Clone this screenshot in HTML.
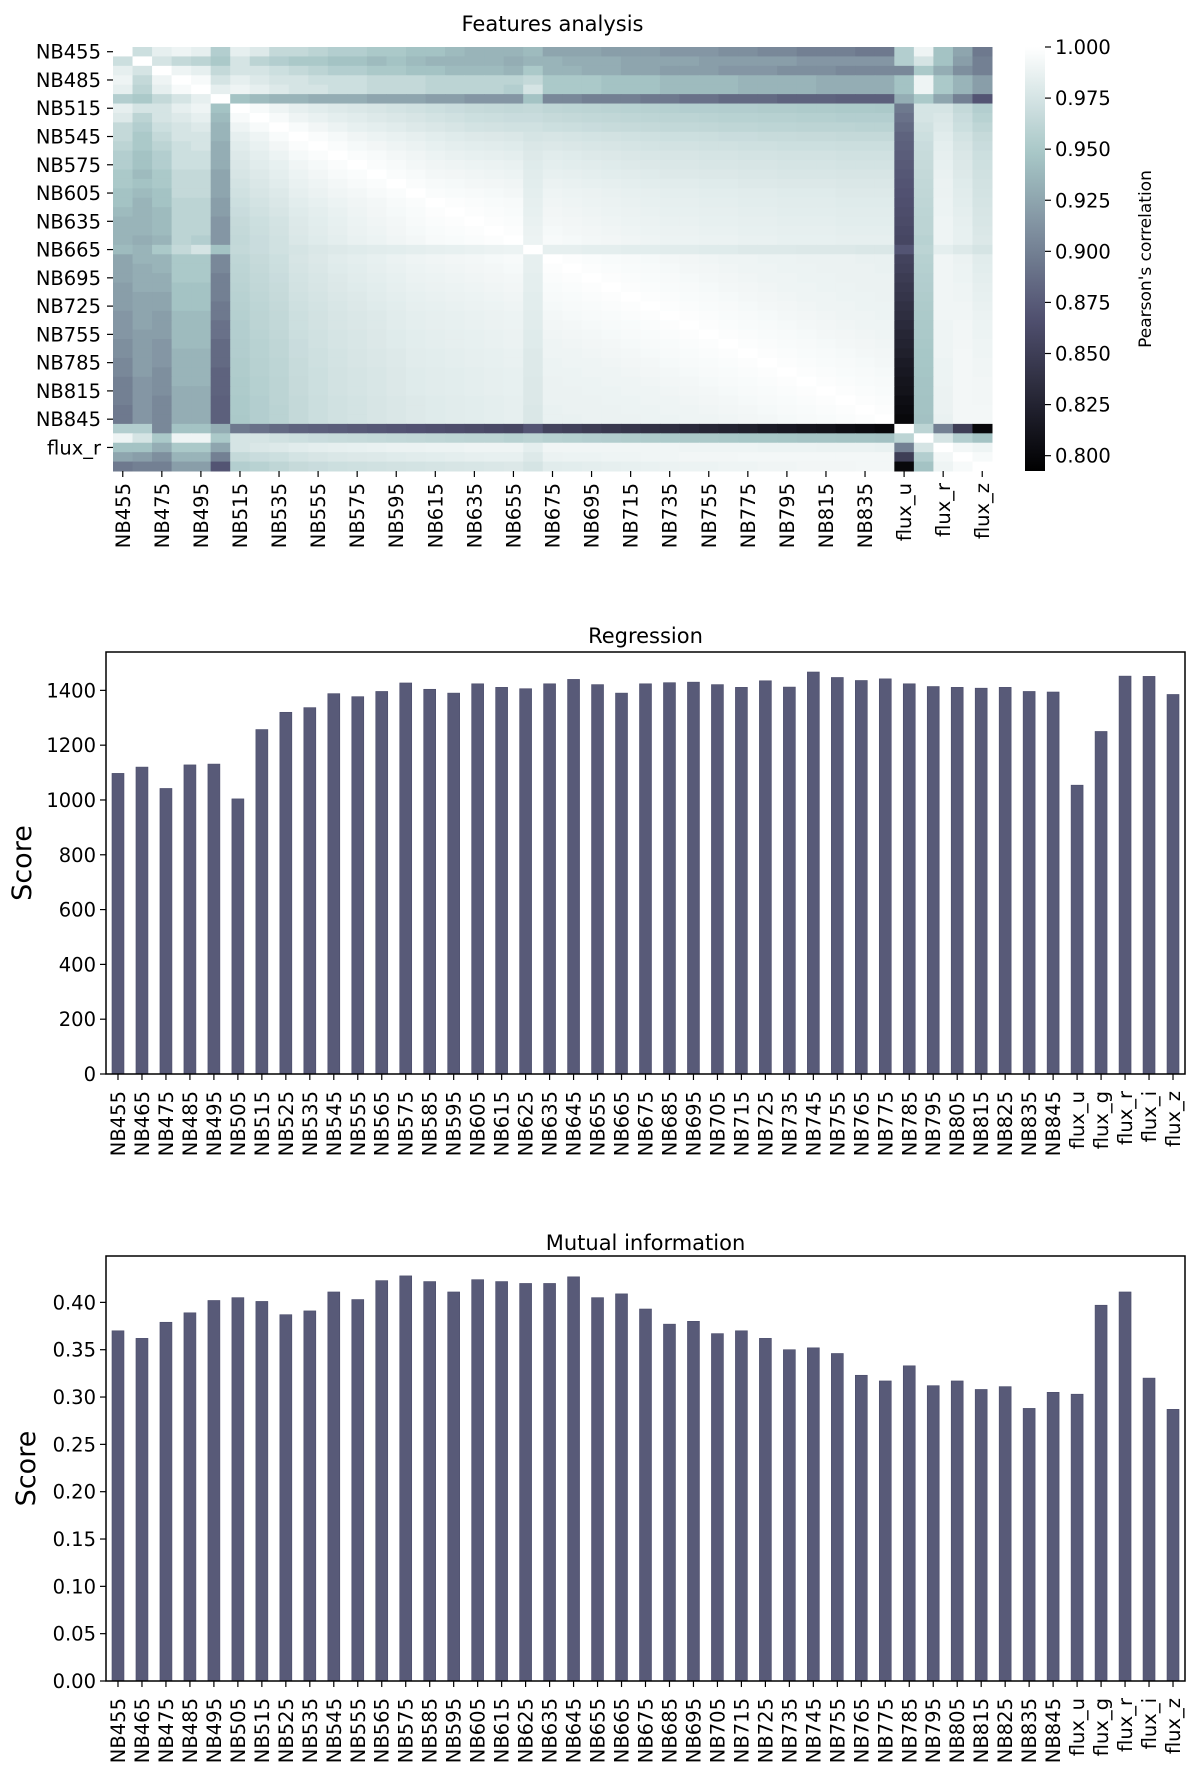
<!DOCTYPE html>
<html><head><meta charset="utf-8"><style>
html,body{margin:0;padding:0;background:#fff;}
svg{display:block;font-family:"DejaVu Sans","Liberation Sans",sans-serif;}
</style></head><body>
<svg id="fig" width="1200" height="1776" viewBox="0 0 1200 1776" xmlns="http://www.w3.org/2000/svg">
<g id="heat"></g>
<g id="reg"></g>
<g id="mi"></g>
</svg>
<script>
const features = ["NB455","NB465","NB475","NB485","NB495","NB505","NB515","NB525","NB535","NB545","NB555","NB565","NB575","NB585","NB595","NB605","NB615","NB625","NB635","NB645","NB655","NB665","NB675","NB685","NB695","NB705","NB715","NB725","NB735","NB745","NB755","NB765","NB775","NB785","NB795","NB805","NB815","NB825","NB835","NB845","flux_u","flux_g","flux_r","flux_i","flux_z"];
// upper triangle rows (row i, columns i..44), correlation x1000
const corrUpper = [
[1000,970,985,990,985,955,985,980,965,965,960,955,955,950,950,945,945,940,935,935,935,940,925,925,925,920,920,920,915,915,915,910,910,905,905,900,900,900,895,895,955,990,945,925,895],
[1000,975,965,960,950,975,960,955,950,950,945,945,940,945,940,935,935,935,935,930,935,935,930,930,930,925,925,925,925,920,920,920,920,920,915,915,915,915,915,955,975,945,920,900],
[1000,990,985,965,975,975,970,965,960,955,955,950,950,945,945,940,940,940,935,950,935,935,930,930,925,925,920,920,920,915,915,915,910,910,910,905,905,905,905,950,930,910,900],
[1000,995,975,985,980,975,975,970,970,970,965,965,965,960,960,960,960,960,965,950,950,950,945,945,945,940,940,940,940,935,935,935,935,930,930,930,930,945,990,950,935,920],
[1000,985,990,985,980,975,975,970,970,965,965,965,960,960,960,960,955,975,950,950,950,945,945,945,940,940,940,940,935,935,935,935,930,930,930,930,945,990,950,935,920],
[1000,945,940,935,935,930,930,930,925,925,925,920,920,915,915,915,945,905,905,900,900,900,895,895,890,890,885,885,885,880,880,880,878,878,878,930,950,925,900,870],
[1000,995,990,985,982,980,978,976,974,972,970,968,966,965,964,965,962,961,960,959,958,957,956,955,955,954,954,953,953,952,952,951,951,950,895,975,975,965,955],
[1000,995,990,987,984,982,980,978,976,974,972,970,969,968,968,966,965,964,963,962,961,960,960,959,958,958,957,957,956,956,955,955,955,890,975,978,968,958],
[1000,996,992,989,986,984,982,980,978,976,974,973,972,972,970,969,968,967,966,965,964,964,963,962,962,961,961,960,960,960,959,959,885,972,980,970,962],
[1000,997,994,991,989,987,985,983,981,980,979,978,975,976,975,974,973,972,971,970,970,969,968,968,967,967,966,966,965,965,965,880,970,982,974,966],
[1000,997,994,992,990,988,986,984,983,982,981,978,979,978,977,976,975,974,973,973,972,972,971,971,970,970,970,969,969,969,878,968,984,976,968],
[1000,997,995,993,991,989,987,986,985,984,980,982,981,980,979,978,977,976,976,975,975,974,974,973,973,973,972,972,972,876,967,985,978,970],
[1000,997,995,993,991,990,989,988,987,981,984,983,982,981,980,979,978,978,977,977,976,976,975,975,975,974,974,974,874,966,986,979,971],
[1000,997,995,993,992,991,990,989,982,986,985,984,983,982,981,980,980,979,979,978,978,977,977,977,976,976,976,872,965,987,980,972],
[1000,997,995,994,993,992,991,983,988,987,986,985,984,983,982,982,981,981,980,980,979,979,979,978,978,978,870,964,988,981,973],
[1000,997,996,995,994,993,984,990,989,988,987,986,985,984,984,983,983,982,982,981,981,981,980,980,980,868,963,988,982,974],
[1000,998,997,996,995,985,991,990,989,988,987,986,985,985,984,984,983,983,982,982,982,981,981,981,866,962,989,983,975],
[1000,998,997,996,986,992,991,990,989,988,987,986,986,985,985,984,984,983,983,983,982,982,982,864,961,989,984,976],
[1000,998,997,987,993,992,991,990,989,988,987,987,986,986,985,985,984,984,984,983,983,983,862,960,990,985,977],
[1000,998,988,994,993,992,991,990,989,988,988,987,987,986,986,985,985,985,984,984,984,860,960,990,986,978],
[1000,989,995,994,993,992,991,990,989,989,988,988,987,987,986,986,986,985,985,985,858,958,990,986,979],
[1000,985,985,984,984,983,983,982,982,981,981,980,980,980,979,979,979,978,978,870,960,984,980,975],
[1000,998,997,996,995,994,993,992,991,990,990,989,989,988,988,988,987,987,855,957,991,988,982],
[1000,998,997,996,995,994,993,992,991,990,990,989,989,988,988,988,987,852,956,991,989,983],
[1000,998,997,996,995,994,993,992,991,990,990,989,989,988,988,988,848,955,991,989,984],
[1000,998,997,996,995,994,993,992,991,990,990,989,989,988,988,845,954,991,990,985],
[1000,998,997,996,995,994,993,992,991,990,990,989,989,988,842,953,991,990,986],
[1000,998,997,996,995,994,993,992,991,990,990,989,989,838,952,991,991,987],
[1000,998,997,996,995,994,993,992,991,990,990,989,835,951,991,991,988],
[1000,998,997,996,995,994,993,992,991,990,990,832,950,990,992,989],
[1000,998,997,996,995,994,993,992,991,990,828,950,990,992,989],
[1000,998,997,996,995,994,993,992,991,825,949,990,992,990],
[1000,998,997,996,995,994,993,992,822,948,990,993,990],
[1000,998,997,996,995,994,993,818,948,989,993,991],
[1000,998,997,996,995,994,815,947,989,993,991],
[1000,998,997,996,995,812,946,989,993,992],
[1000,998,997,996,810,946,988,993,992],
[1000,998,997,806,945,988,993,992],
[1000,998,803,945,988,993,993],
[1000,800,944,987,993,993],
[1000,960,900,850,800],
[1000,975,955,945],
[1000,993,990],
[1000,995],
[1000]
];
const heatYTicks = ["NB455","NB485","NB515","NB545","NB575","NB605","NB635","NB665","NB695","NB725","NB755","NB785","NB815","NB845","flux_r"];
const heatXTicks = ["NB455","NB475","NB495","NB515","NB535","NB555","NB575","NB595","NB615","NB635","NB655","NB675","NB695","NB715","NB735","NB755","NB775","NB795","NB815","NB835","flux_u","flux_r","flux_z"];
const cbarTicks = [1.000,0.975,0.950,0.925,0.900,0.875,0.850,0.825,0.800];
const regScores = [1097,1120,1042,1128,1131,1004,1257,1320,1337,1388,1377,1396,1427,1404,1390,1424,1411,1406,1424,1440,1421,1390,1424,1428,1430,1421,1411,1435,1412,1467,1447,1436,1442,1424,1414,1411,1408,1411,1396,1394,1054,1250,1452,1451,1385];
const regTicks = [0,200,400,600,800,1000,1200,1400];
const miScores = [0.370,0.362,0.379,0.389,0.402,0.405,0.401,0.387,0.391,0.411,0.403,0.423,0.428,0.422,0.411,0.424,0.422,0.420,0.420,0.427,0.405,0.409,0.393,0.377,0.380,0.367,0.370,0.362,0.350,0.352,0.346,0.323,0.317,0.333,0.312,0.317,0.308,0.311,0.288,0.305,0.303,0.397,0.411,0.320,0.287];
const miTicks = [0.00,0.05,0.10,0.15,0.20,0.25,0.30,0.35,0.40];

const NS = "http://www.w3.org/2000/svg";
const FS = 19.5;
function mk(parent, tag, attrs, text){
  const e = document.createElementNS(NS, tag);
  for (const k in attrs) e.setAttribute(k, attrs[k]);
  if (text !== undefined) e.textContent = text;
  parent.appendChild(e);
  return e;
}
function interp(pts, t){
  for (let i=1;i<pts.length;i++){ if (t<=pts[i][0]){ const a=pts[i-1],b=pts[i]; return a[1]+(b[1]-a[1])*(t-a[0])/(b[0]-a[0]); } }
  return pts[pts.length-1][1];
}
const VMIN=0.7925, VMAX=1.0;
function bone(v){
  let t=(v-VMIN)/(VMAX-VMIN); t=Math.max(0,Math.min(1,t));
  const r=interp([[0,0],[0.746,0.652],[1,1]],t);
  const g=interp([[0,0],[0.365,0.319],[0.746,0.777],[1,1]],t);
  const b=interp([[0,0],[0.365,0.444],[1,1]],t);
  return `rgb(${Math.round(r*255)},${Math.round(g*255)},${Math.round(b*255)})`;
}
(function(){
  const g = document.getElementById('heat');
  const L=113, R=992, T=47, B=471, n=features.length;
  const cw=(R-L)/n, ch=(B-T)/n;
  const xPos = i => L + i*cw, yPos = i => T + i*ch;
  const val = (i,j) => { const a=Math.min(i,j), b=Math.max(i,j); const v=corrUpper[a][b-a]; return v===undefined?990:v; };
  const t = mk(g,'text',{x:(L+R)/2,y:31,'text-anchor':'middle','font-size':21,fill:'#000'},'Features analysis');
  
  
  for (let i=0;i<n;i++) for (let j=0;j<n;j++){
    const c = mk(g,'rect',{x:xPos(j),y:yPos(i),width:cw+0.5,height:ch+0.5,fill:bone(val(i,j)/1000)});
    
    
  }
  heatYTicks.forEach(lab=>{
    const i = features.indexOf(lab); const y = yPos(i)+ch/2;
    mk(g,'line',{x1:L-6,x2:L,y1:y,y2:y,stroke:'#000','stroke-width':1.2});
    const e = mk(g,'text',{x:L-12,y:y+7,'text-anchor':'end','font-size':FS,fill:'#000'},lab);
    
    
  });
  heatXTicks.forEach(lab=>{
    const i = features.indexOf(lab); const x = xPos(i)+cw/2;
    mk(g,'line',{x1:x,x2:x,y1:B,y2:B+6,stroke:'#000','stroke-width':1.2});
    const e = mk(g,'text',{x:0,y:0,'text-anchor':'end','font-size':FS,fill:'#000',transform:`translate(${x+7},${B+12}) rotate(-90)`},lab);
    
    
  });
  const CL=1025, CR=1045;
  const defs = mk(g,'defs',{});
  const grad = mk(defs,'linearGradient',{id:'cb',x1:0,y1:1,x2:0,y2:0});
  for (let k=0;k<=20;k++){ const v=VMIN+(VMAX-VMIN)*k/20; mk(grad,'stop',{offset:k/20,'stop-color':bone(v)}); }
  const cb = mk(g,'rect',{x:CL,y:T,width:CR-CL,height:B-T,fill:'url(#cb)'});
  
  
  const cy = v => B - (v-VMIN)/(VMAX-VMIN)*(B-T);
  cbarTicks.forEach(v=>{
    const y=cy(v);
    mk(g,'line',{x1:CR,x2:CR+6,y1:y,y2:y,stroke:'#000','stroke-width':1.2});
    const e = mk(g,'text',{x:CR+10,y:y+7,'font-size':FS,fill:'#000'},v.toFixed(3));
    
    
  });
  const cl = mk(g,'text',{x:0,y:0,'text-anchor':'middle','font-size':17,fill:'#000',transform:`translate(1151,${(T+B)/2}) rotate(-90)`},"Pearson's correlation");
  
  
})();
function barChart(id, title, titleY, values, ticks, top, bottom, ymax, fmt, ylabX, labelTop){
  const g = document.getElementById(id);
  const L=106, R=1185, n=features.length, slot=(R-L)/n, bw=slot*0.5;
  const y = v => bottom - v/ymax*(bottom-top);
  const xC = i => L + slot*(i+0.5);
  const t = mk(g,'text',{x:(L+R)/2,y:titleY,'text-anchor':'middle','font-size':21,fill:'#000'},title);
  
  
  values.forEach((v,i)=>{
    const b = mk(g,'rect',{x:xC(i)-bw/2,y:y(v),width:bw,height:bottom-y(v),fill:'#585a78',stroke:'#4a4c6a','stroke-width':0.6});
    
    
    mk(g,'line',{x1:xC(i),x2:xC(i),y1:bottom,y2:bottom+6,stroke:'#000','stroke-width':1.2});
    const e = mk(g,'text',{x:0,y:0,'text-anchor':'end','font-size':FS,fill:'#000',transform:`translate(${xC(i)+7},${labelTop}) rotate(-90)`},features[i]);
    
    
  });
  ticks.forEach(v=>{
    const yy=y(v);
    mk(g,'line',{x1:L-6,x2:L,y1:yy,y2:yy,stroke:'#000','stroke-width':1.2});
    const e = mk(g,'text',{x:L-10,y:yy+7,'text-anchor':'end','font-size':FS,fill:'#000'},fmt(v));
    
    
  });
  const fr = mk(g,'rect',{x:L,y:top,width:R-L,height:bottom-top,fill:'none',stroke:'#000','stroke-width':1.5});
  
  
  const yl = mk(g,'text',{x:0,y:0,'text-anchor':'middle','font-size':27,fill:'#000',transform:`translate(${ylabX},${(top+bottom)/2}) rotate(-90)`},'Score');
  
  
}
barChart('reg','Regression',643,regScores,regTicks,652,1074,1540,v=>String(v),31,1091);
barChart('mi','Mutual information',1250,miScores,miTicks,1256,1681,0.449,v=>v.toFixed(2),35,1698);
</script>
</body></html>
